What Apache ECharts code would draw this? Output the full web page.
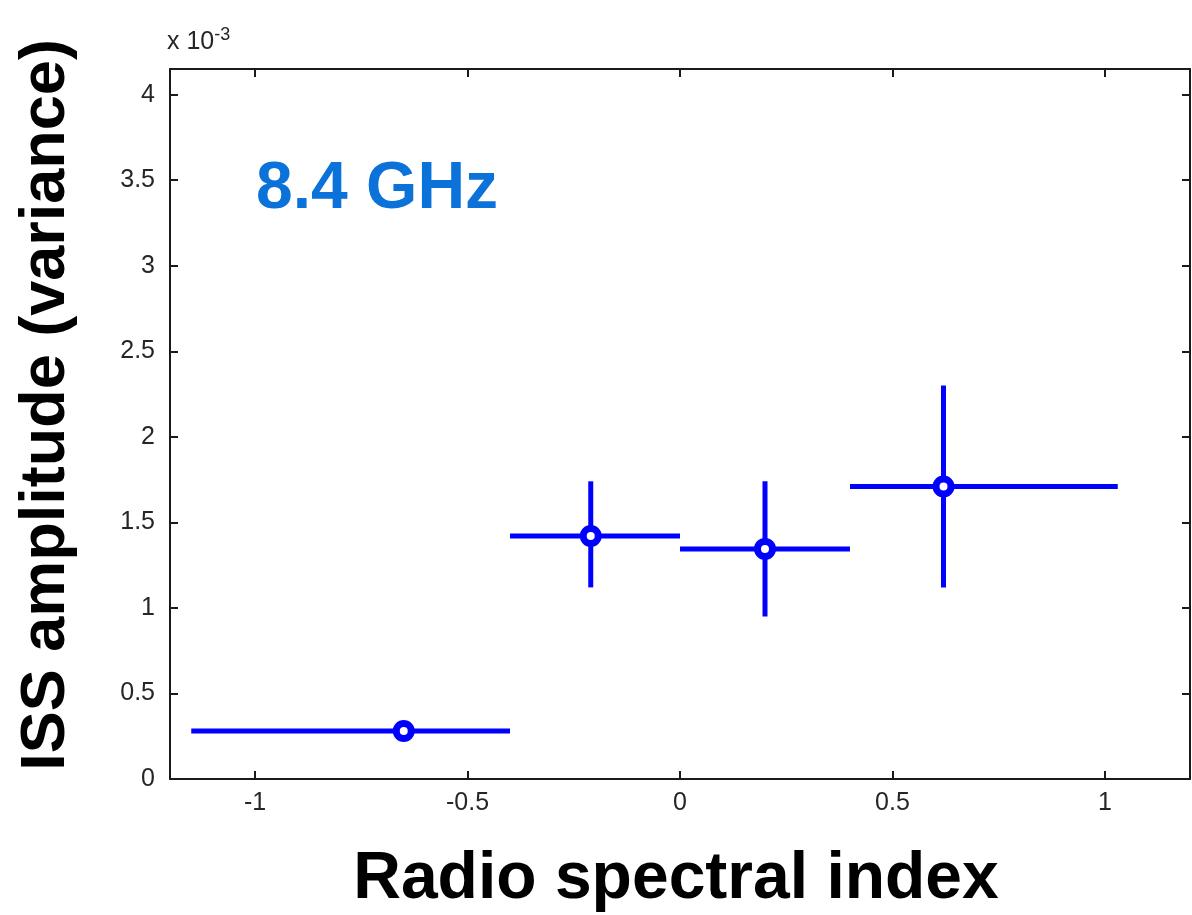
<!DOCTYPE html>
<html>
<head>
<meta charset="utf-8">
<script src="https://cdn.jsdelivr.net/npm/echarts@6/dist/echarts.min.js"></script>
<style>
  html, body { margin: 0; padding: 0; background: #fff; }
  #chart { width: 1192px; height: 915px; }
</style>
</head>
<body>
<div id="chart"></div>
<script>
// ---- data (y in units of 1e-3) ----
const xCenter = [-0.65, -0.21, 0.20, 0.62];
const yCenter = [0.28, 1.42, 1.345, 1.71];
const xLow    = [-1.15, -0.40, 0.00, 0.40];
const xHigh   = [-0.40, 0.00, 0.40, 1.03];
const yLow    = [0.26, 1.12, 0.95, 1.12];
const yHigh   = [0.30, 1.74, 1.74, 2.30];

const xTicks = [-1, -0.5, 0, 0.5, 1];
const xTickLabels = ['-1', '-0.5', '0', '0.5', '1'];
const yTicks = [0, 0.5, 1, 1.5, 2, 2.5, 3, 3.5, 4];
const yTickLabels = ['0', '0.5', '1', '1.5', '2', '2.5', '3', '3.5', '4'];

const xTitle = 'Radio spectral index';
const yTitle = 'ISS amplitude (variance)';
const annotation = '8.4 GHz';
const scaleBase = 'x 10';
const scaleExp = '-3';

const errData = xCenter.map((x, i) => [x, yCenter[i], xLow[i], xHigh[i], yLow[i], yHigh[i]]);
const ptData = xCenter.map((x, i) => [x, yCenter[i]]);

const blue = '#0000ff';
const axisColor = '#1a1a1a';
const labelColor = '#262626';
const font = 'Liberation Sans, Arial, Helvetica, sans-serif';

const chart = echarts.init(document.getElementById('chart'), null, { renderer: 'canvas' });

function xLabelFmt(v) {
  const i = xTicks.findIndex(t => Math.abs(t - v) < 1e-9);
  return i >= 0 ? xTickLabels[i] : '';
}
function yLabelFmt(v) {
  const i = yTicks.findIndex(t => Math.abs(t - v) < 1e-9);
  return i >= 0 ? yTickLabels[i] : '';
}

const commonLine = { show: true, lineStyle: { color: axisColor, width: 2 } };
const commonTick = { show: true, inside: true, length: 8, lineStyle: { color: axisColor, width: 2 } };

const option = {
  backgroundColor: '#ffffff',
  animation: false,
  grid: { left: 170, right: 2, top: 69, bottom: 136, containLabel: false },
  xAxis: [
    {
      type: 'value', min: -1.2, max: 1.2, position: 'bottom',
      axisLine: Object.assign({ onZero: false }, commonLine),
      axisTick: Object.assign({ customValues: xTicks }, commonTick),
      axisLabel: { customValues: xTicks, formatter: xLabelFmt, color: labelColor, fontSize: 25, fontFamily: font, margin: 12 },
      splitLine: { show: false }
    },
    {
      type: 'value', min: -1.2, max: 1.2, position: 'top',
      axisLine: Object.assign({ onZero: false }, commonLine),
      axisTick: Object.assign({ customValues: xTicks }, commonTick),
      axisLabel: { show: false },
      splitLine: { show: false }
    }
  ],
  yAxis: [
    {
      type: 'value', min: 0, max: 4.15, position: 'left',
      axisLine: Object.assign({ onZero: false }, commonLine),
      axisTick: Object.assign({ customValues: yTicks }, commonTick),
      axisLabel: { customValues: yTicks, formatter: yLabelFmt, color: labelColor, fontSize: 25, fontFamily: font, margin: 15 },
      splitLine: { show: false }
    },
    {
      type: 'value', min: 0, max: 4.15, position: 'right',
      axisLine: Object.assign({ onZero: false }, commonLine),
      axisTick: Object.assign({ customValues: yTicks }, commonTick),
      axisLabel: { show: false },
      splitLine: { show: false }
    }
  ],
  series: [
    {
      type: 'custom',
      xAxisIndex: 0, yAxisIndex: 0,
      data: errData,
      encode: { x: [0, 2, 3], y: [1, 4, 5] },
      renderItem: function (params, api) {
        const y = api.value(1);
        const x = api.value(0);
        const h1 = api.coord([api.value(2), y]);
        const h2 = api.coord([api.value(3), y]);
        const v1 = api.coord([x, api.value(4)]);
        const v2 = api.coord([x, api.value(5)]);
        const style = { stroke: blue, lineWidth: 5, lineCap: 'butt' };
        return {
          type: 'group',
          children: [
            { type: 'line', shape: { x1: h1[0], y1: h1[1], x2: h2[0], y2: h2[1] }, style: style },
            { type: 'line', shape: { x1: v1[0], y1: v1[1], x2: v2[0], y2: v2[1] }, style: style }
          ]
        };
      },
      z: 2
    },
    {
      type: 'scatter',
      xAxisIndex: 0, yAxisIndex: 0,
      data: ptData,
      symbol: 'circle',
      symbolSize: 15,
      itemStyle: { color: '#ffffff', borderColor: blue, borderWidth: 7, opacity: 1 },
      z: 3
    }
  ],
  graphic: [
    {
      type: 'text',
      x: 47, y: 405,
      rotation: Math.PI / 2,
      style: { text: yTitle, fill: '#000', font: 'bold 63px ' + font, textAlign: 'center', textVerticalAlign: 'middle' }
    },
    {
      type: 'text',
      x: 676, y: 880,
      style: { text: xTitle, fill: '#000', font: 'bold 66px ' + font, textAlign: 'center', textVerticalAlign: 'middle' }
    },
    {
      type: 'text',
      x: 256, y: 190,
      style: { text: annotation, fill: '#0a72d8', font: 'bold 66px ' + font, textAlign: 'left', textVerticalAlign: 'middle' }
    },
    {
      type: 'text',
      x: 167, y: 42,
      style: {
        text: '{b|' + scaleBase + '}{e|' + scaleExp + '}',
        textAlign: 'left', textVerticalAlign: 'middle',
        rich: {
          b: { fontSize: 25, fontFamily: font, fill: labelColor, color: labelColor },
          e: { fontSize: 18, fontFamily: font, fill: labelColor, color: labelColor, verticalAlign: 'top', padding: [0, 0, 14, 0] }
        }
      }
    }
  ]
};

chart.setOption(option);
</script>
</body>
</html>
